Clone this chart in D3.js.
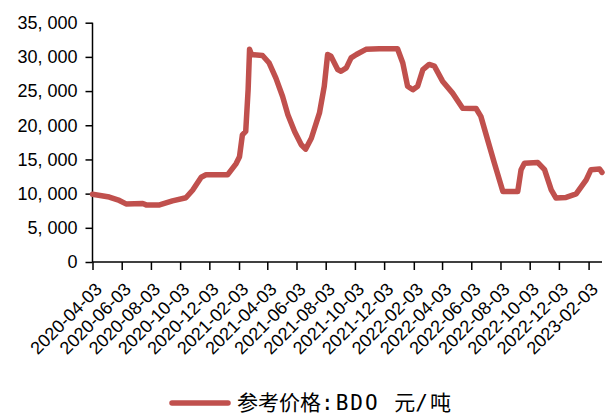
<!DOCTYPE html>
<html>
<head>
<meta charset="utf-8">
<script src="https://cdn.jsdelivr.net/npm/d3@7"></script>
<style>
  body { margin: 0; background: #fff; }
  svg { display: block; }
</style>
</head>
<body>
<div id="chart"></div>
<script>
// BDO reference price, yuan/tonne
const dates = [
  "2020-04-03", "2020-05-08", "2020-05-29", "2020-06-12", "2020-07-17", "2020-07-24",
  "2020-08-21", "2020-09-17", "2020-10-15", "2020-10-29", "2020-11-16", "2020-11-26",
  "2021-01-10", "2021-01-28", "2021-02-04", "2021-02-10", "2021-02-17", "2021-02-22",
  "2021-02-25", "2021-03-01", "2021-03-24", "2021-04-07", "2021-04-21", "2021-05-05",
  "2021-05-16", "2021-05-30", "2021-06-13", "2021-06-22", "2021-07-04", "2021-07-21",
  "2021-07-31", "2021-08-07", "2021-08-14", "2021-08-28", "2021-09-04", "2021-09-15",
  "2021-09-25", "2021-10-06", "2021-10-26", "2021-11-23", "2021-12-31", "2022-01-11",
  "2022-01-21", "2022-02-01", "2022-02-11", "2022-02-22", "2022-03-07", "2022-03-18",
  "2022-04-04", "2022-04-25", "2022-05-16", "2022-06-13", "2022-06-23", "2022-07-07",
  "2022-07-21", "2022-08-08", "2022-09-08", "2022-09-15", "2022-09-22", "2022-10-20",
  "2022-11-03", "2022-11-17", "2022-11-27", "2022-12-18", "2023-01-08", "2023-01-29",
  "2023-02-08", "2023-02-26", "2023-03-03"
];
const prices = [
  9900, 9500, 9000, 8500, 8550, 8350,
  8350, 8950, 9400, 10500, 12400, 12750,
  12750, 14400, 15400, 18600, 19100, 25200,
  31100, 30350, 30200, 29100, 26900, 24200,
  21550, 19100, 17150, 16500, 18100, 21800,
  25700, 30350, 30100, 28150, 27900, 28400,
  29850, 30350, 31100, 31200, 31200, 29100,
  25700, 25200, 25700, 28150, 28900, 28650,
  26450, 24700, 22500, 22450, 21300, 17900,
  14500, 10300, 10300, 13500, 14450, 14550,
  13500, 10550, 9350, 9450, 9950, 12000,
  13500, 13600, 13100
];
const tickLabels = [
  "2020-04-03", "2020-06-03", "2020-08-03", "2020-10-03", "2020-12-03", "2021-02-03",
  "2021-04-03", "2021-06-03", "2021-08-03", "2021-10-03", "2021-12-03", "2022-02-03",
  "2022-04-03", "2022-06-03", "2022-08-03", "2022-10-03", "2022-12-03", "2023-02-03"
];
const yTicks = [0, 5000, 10000, 15000, 20000, 25000, 30000, 35000];
const seriesName = "参考价格:BDO 元/吨";

const width = 609;
const height = 418;
const plot = { left: 92.5, right: 602, top: 22.7, bottom: 262 };
const color = "#C0504D";

const parse = d3.utcParse("%Y-%m-%d");
const data = dates.map((d, i) => ({ date: parse(d), value: prices[i] }));

const svg = d3.select("#chart")
  .append("svg")
  .attr("width", width)
  .attr("height", height);

const x = d3.scaleUtc()
  .domain([parse("2020-04-03"), parse("2023-03-03")])
  .range([plot.left, plot.right]);

const y = d3.scaleLinear()
  .domain([0, 35000])
  .range([plot.bottom, plot.top]);

// y axis
const fmt = v => d3.format(",")(v).replace(/,/g, ", ");
const yAxis = svg.append("g")
  .attr("transform", `translate(${plot.left},0)`)
  .call(d3.axisLeft(y).tickValues(yTicks).tickSize(7).tickPadding(8).tickFormat(fmt));
yAxis.select(".domain").attr("d", `M0,${plot.top}V${plot.bottom}`);
yAxis.selectAll("path, line").attr("stroke", "#000").attr("stroke-width", 1.5);
yAxis.selectAll("text")
  .attr("font-family", "Arial, 'Liberation Sans', sans-serif")
  .attr("font-size", 18)
  .attr("fill", "#000");

// x axis
const xAxis = svg.append("g")
  .attr("transform", `translate(0,${plot.bottom})`)
  .call(d3.axisBottom(x).tickValues(tickLabels.map(parse)).tickSize(8).tickFormat(""));
xAxis.select(".domain").attr("d", `M${plot.left},0H${plot.right}`);
xAxis.selectAll("path, line").attr("stroke", "#000").attr("stroke-width", 1.5);

svg.append("g")
  .selectAll("text")
  .data(tickLabels)
  .join("text")
  .attr("transform", d => `translate(${x(parse(d)) + 6},${plot.bottom + 24}) rotate(-45)`)
  .attr("text-anchor", "end")
  .attr("dy", "0.35em")
  .attr("font-family", "Arial, 'Liberation Sans', sans-serif")
  .attr("font-size", 18)
  .attr("fill", "#000")
  .text(d => d);

// series line
const line = d3.line()
  .x(d => x(d.date))
  .y(d => y(d.value));

svg.append("path")
  .datum(data)
  .attr("d", line)
  .attr("fill", "none")
  .attr("stroke", color)
  .attr("stroke-width", 5.5)
  .attr("stroke-linejoin", "round")
  .attr("stroke-linecap", "round");

// legend
const legend = svg.append("g").attr("transform", "translate(172,403)");
legend.append("line")
  .attr("x1", 0).attr("x2", 56)
  .attr("y1", 0).attr("y2", 0)
  .attr("stroke", color)
  .attr("stroke-width", 5.5)
  .attr("stroke-linecap", "round");

// CJK runs in a CJK face, the half-width runs in a fixed-width face
const isCJK = s => /[\u4e00-\u9fff]/.test(s);
const runs = seriesName.match(/[\u4e00-\u9fff]+|[^\u4e00-\u9fff]+/g);
legend.append("text")
  .attr("x", 65)
  .attr("dy", "0.35em")
  .attr("font-size", 21)
  .attr("fill", "#000")
  .selectAll("tspan")
  .data(runs)
  .join("tspan")
  .attr("font-family", d => isCJK(d) ? "'Noto Sans CJK SC', sans-serif" : "'DejaVu Sans Mono', monospace")
  .attr("letter-spacing", d => isCJK(d) ? 0 : 2)
  .style("white-space", "pre")
  .text(d => d);
</script>
</body>
</html>
